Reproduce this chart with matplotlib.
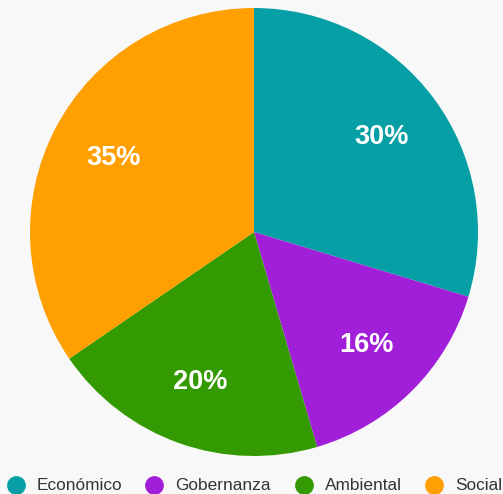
import matplotlib
matplotlib.use("Agg")
import matplotlib.pyplot as plt

plt.rcParams['font.family'] = ['Liberation Sans', 'DejaVu Sans']

categories = ["Económico", "Gobernanza", "Ambiental", "Social"]
values = [29.7, 15.8, 20.0, 34.6]
colors = ["#079fa6", "#a21fd9", "#349a02", "#ff9f00"]

W, H = 503, 494
fig = plt.figure(figsize=(W / 100, H / 100), dpi=100)
fig.patch.set_facecolor("#f8f8f8")

# pie centre (254, 232), radius 224 px
cx, cy, r = 254, 232, 224
ax = fig.add_axes([(cx - r) / W, (H - cy - r) / H, 2 * r / W, 2 * r / H])
ax.set_facecolor("#f8f8f8")

wedges, texts, autotexts = ax.pie(
    values, colors=colors, startangle=90, counterclock=False,
    autopct=lambda p: f"{p:.0f}%", pctdistance=0.71, radius=1.0,
    wedgeprops=dict(linewidth=0),
)
for t in autotexts:
    t.set_color("white")
    t.set_fontsize(19.5)
    t.set_fontweight("bold")
ax.set_xlim(-1, 1)
ax.set_ylim(-1, 1)
ax.set_aspect("equal")
ax.axis("off")

# legend row drawn in pixel coords along the bottom
lax = fig.add_axes([0, 0, 1, 1], zorder=-1)
lax.set_xlim(0, W)
lax.set_ylim(H, 0)
lax.axis("off")
marker_x = [16, 154, 304, 434]
for x, c, lab in zip(marker_x, colors, categories):
    lax.plot(x, 485, marker="o", markersize=12.5, color=c, linestyle="")
    lax.text(x + 21, 485, lab, va="center", ha="left", fontsize=12.4,
             color="#333333")

fig.savefig("out.png", dpi=100, facecolor=fig.get_facecolor())
